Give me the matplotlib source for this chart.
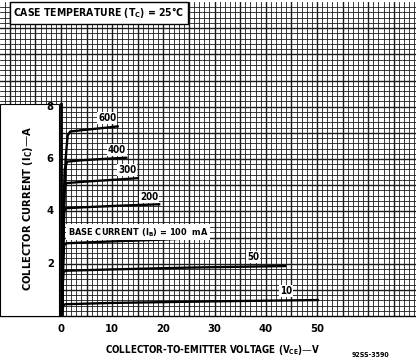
import matplotlib
matplotlib.use('Agg')
import matplotlib.pyplot as plt
import matplotlib.patches as patches
import numpy as np

# collector characteristics: Vce [V], Ic [A]
vce_600 = [0.2, 0.5, 0.9, 1.3, 1.8, 4, 8, 11.3]
ic_600 = [0, 3.0, 6.0, 6.9, 7.05, 7.1, 7.18, 7.25]
vce_400 = [0.2, 0.4, 0.7, 1.2, 4, 8, 13]
ic_400 = [0, 3.0, 5.6, 5.9, 5.95, 6.0, 6.05]
vce_300 = [0.2, 0.4, 0.6, 1.1, 5, 10, 15.2]
ic_300 = [0, 3.0, 4.9, 5.08, 5.14, 5.2, 5.27]
vce_200 = [0.2, 0.4, 0.6, 1.0, 5, 12, 19.4]
ic_200 = [0, 2.5, 4.0, 4.12, 4.16, 4.22, 4.27]
vce_100 = [0.2, 0.4, 0.6, 1.0, 10, 20, 29]
ic_100 = [0, 1.8, 2.7, 2.78, 2.85, 2.92, 3.0]
vce_50 = [0.2, 0.35, 0.5, 0.9, 10, 25, 44]
ic_50 = [0, 1.2, 1.68, 1.73, 1.78, 1.85, 1.91]
vce_10 = [0.2, 0.35, 0.5, 0.9, 10, 30, 50.4]
ic_10 = [0, 0.3, 0.42, 0.45, 0.5, 0.56, 0.61]

curve_labels = ['600', '400', '300', '200', '50', '10']
label_x = [9.0, 10.9, 12.9, 17.2, 37.5, 44.0]
label_y = [7.56, 6.34, 5.57, 4.54, 2.25, 0.95]

x_ticks = [0, 10, 20, 30, 40, 50]
y_ticks = [2, 4, 6, 8]

plt.rcParams['font.family'] = ['DejaVu Sans']
plt.rcParams['font.stretch'] = 'condensed'
plt.rcParams['font.weight'] = 'bold'
plt.rcParams['mathtext.default'] = 'regular'

W, H = 416, 362
fig = plt.figure(figsize=(W / 100, H / 100), dpi=100)
ax = fig.add_axes([0, (H - 316) / H, 1, 314 / H])
x0 = 61 / 5.12
ax.set_xlim(-x0, (W - 61) / 5.12)
ax.set_ylim(0, 12)

# graph paper
for v in np.arange(-11, 70, 1):
    ax.axvline(v, color='#1a1a1a', lw=1.0 if v % 5 == 0 else 0.6, zorder=1)
for k in range(1, 60):
    ax.axhline(k * 0.2, color='#1a1a1a', lw=1.0 if k % 5 == 0 else 0.6, zorder=1)

# white label panel on the left
ax.add_patch(patches.Rectangle((-x0, 0), x0 - 0.35, 8.1, facecolor='white',
                               edgecolor='black', lw=0.8, zorder=3))
ax.plot([0, 0], [0, 8.1], color='black', lw=2, zorder=4)

curves = [(vce_600, ic_600), (vce_400, ic_400), (vce_300, ic_300), (vce_200, ic_200),
          (vce_100, ic_100), (vce_50, ic_50), (vce_10, ic_10)]
for vx, iy in curves:
    ax.plot(vx, iy, color='black', lw=1.7, zorder=5, solid_capstyle='butt')

box = dict(facecolor='white', edgecolor='none', pad=0.8)
for lab, lx, ly in zip(curve_labels, label_x, label_y):
    ax.text(lx, ly, lab, fontsize=7, ha='center', va='center', bbox=box, zorder=6)
ax.text(1.3, 3.2, 'BASE CURRENT (I$_B$) = 100  mA', fontsize=6.6, ha='left',
        va='center', bbox=dict(facecolor='white', edgecolor='none', pad=1.2), zorder=6)

for t in y_ticks:
    ax.text(-2.1, t, str(t), fontsize=8, ha='center', va='center', zorder=6)

ax.set_xticks(x_ticks)
ax.set_xticklabels([str(t) for t in x_ticks], fontsize=8)
ax.tick_params(axis='x', length=0, pad=6)
ax.set_yticks([])
for s in ['left', 'right', 'top']:
    ax.spines[s].set_visible(False)
ax.spines['bottom'].set_linewidth(1)

fig.text(28 / W, 1 - 209 / H, 'COLLECTOR CURRENT (I$_C$)—A', rotation=90,
         fontsize=8, ha='center', va='center')
fig.text(213 / W, 1 - 350 / H, 'COLLECTOR-TO-EMITTER VOLTAGE (V$_{CE}$)—V',
         fontsize=7, ha='center', va='center')
fig.text(370 / W, 1 - 355 / H, '92SS-3590', fontsize=5, ha='center', va='center')
fig.text(13 / W, 1 - 13 / H, 'CASE TEMPERATURE (T$_C$) = 25°C', fontsize=7.5,
         ha='left', va='center',
         bbox=dict(facecolor='white', edgecolor='black', lw=1, pad=2.5), zorder=10)

fig.savefig('out.png', dpi=100)
